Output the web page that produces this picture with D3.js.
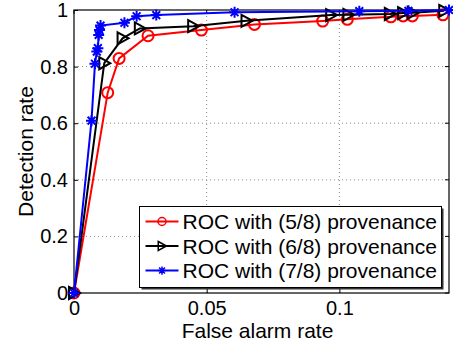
<!DOCTYPE html>
<html>
<head>
<meta charset="utf-8">
<script src="https://cdn.jsdelivr.net/npm/d3@7"></script>
<style>
  body { margin: 0; background: #fff; }
  svg { display: block; font-family: "Liberation Sans", Arial, sans-serif; }
</style>
</head>
<body>
<div id="container"></div>
<script>
/* DATA */
const xTicks = [0, 0.05, 0.1]
const yTicks = [0, 0.2, 0.4, 0.6, 0.8, 1]

const redX = [0, 0.0127, 0.017, 0.0279, 0.048, 0.068, 0.0937, 0.103, 0.1194, 0.124, 0.1275, 0.139]
const redY = [0, 0.708, 0.829, 0.909, 0.929, 0.949, 0.961, 0.967, 0.976, 0.979, 0.979, 0.983]

const blackX = [0, 0.0114, 0.0183, 0.0248, 0.0449, 0.065, 0.0969, 0.1034, 0.119, 0.124, 0.1276, 0.1395]
const blackY = [0, 0.812, 0.9, 0.935, 0.943, 0.962, 0.982, 0.983, 0.986, 0.989, 0.99, 0.997]

const blueX = [0, 0.0066, 0.0079, 0.0086, 0.009, 0.0093, 0.0096, 0.01, 0.019, 0.0236, 0.031, 0.0605, 0.1075, 0.126, 0.1413]
const blueY = [0, 0.609, 0.81, 0.853, 0.865, 0.912, 0.929, 0.945, 0.955, 0.978, 0.982, 0.992, 0.996, 0.997, 1]

const seriesNames = ["ROC with (5/8) provenance", "ROC with (6/8) provenance", "ROC with (7/8) provenance"]

/* CONSTANTS */
const width = 453,
  height = 346,
  margin = { top: 10, bottom: 53, left: 74, right: 4 },
  fontSize = 21,
  tickFont = 20

const series = [
  { name: seriesNames[0], color: "#ff0000", marker: "circle", xs: redX, ys: redY },
  { name: seriesNames[1], color: "#000000", marker: "triangle", xs: blackX, ys: blackY },
  { name: seriesNames[2], color: "#0000ff", marker: "star", xs: blueX, ys: blueY },
]

/* SCALES */
const xScale = d3.scaleLinear()
  .domain([0, 0.1413])
  .range([margin.left, width - margin.right])

const yScale = d3.scaleLinear()
  .domain([0, 1])
  .range([height - margin.bottom, margin.top])

const svg = d3.select("#container")
  .append("svg")
  .attr("width", width)
  .attr("height", height)

const x0 = xScale.range()[0], x1 = xScale.range()[1]
const y0 = yScale.range()[0], y1 = yScale.range()[1]

// dotted grid
svg.append("g")
  .selectAll("line")
  .data(xTicks.filter(d => d > 0))
  .join("line")
  .attr("x1", d => xScale(d)).attr("x2", d => xScale(d))
  .attr("y1", y0).attr("y2", y1)
  .attr("stroke", "#8c8c8c")
  .attr("stroke-width", 1)
  .attr("stroke-dasharray", "1,3")

svg.append("g")
  .selectAll("line")
  .data(yTicks.filter(d => d > 0 && d < 1))
  .join("line")
  .attr("x1", x0).attr("x2", x1)
  .attr("y1", d => yScale(d)).attr("y2", d => yScale(d))
  .attr("stroke", "#8c8c8c")
  .attr("stroke-width", 1)
  .attr("stroke-dasharray", "1,3")

// axes, ticks pointing inward like matlab
const xAxis = d3.axisBottom(xScale).tickValues(xTicks).tickFormat(d3.format("")).tickSizeInner(-4).tickSizeOuter(0).tickPadding(8)
const yAxis = d3.axisLeft(yScale).tickValues(yTicks).tickFormat(d3.format("")).tickSizeInner(-4).tickSizeOuter(0).tickPadding(6)

svg.append("g")
  .attr("transform", `translate(0,${y0})`)
  .call(xAxis)
  .call(g => g.select(".domain").remove())
  .call(g => g.selectAll("text").attr("font-size", tickFont).attr("fill", "#000").attr("font-family", "Liberation Sans, Arial, sans-serif"))

svg.append("g")
  .attr("transform", `translate(${x0},0)`)
  .call(yAxis)
  .call(g => g.select(".domain").remove())
  .call(g => g.selectAll("text").attr("font-size", tickFont).attr("fill", "#000").attr("font-family", "Liberation Sans, Arial, sans-serif"))

// ticks on top and right
svg.append("g").selectAll("line").data(xTicks).join("line")
  .attr("x1", d => xScale(d)).attr("x2", d => xScale(d))
  .attr("y1", y1).attr("y2", y1 + 4).attr("stroke", "#000")
svg.append("g").selectAll("line").data(yTicks).join("line")
  .attr("x1", x1).attr("x2", x1 - 4)
  .attr("y1", d => yScale(d)).attr("y2", d => yScale(d)).attr("stroke", "#000")

// box
svg.append("rect")
  .attr("x", x0).attr("y", y1)
  .attr("width", x1 - x0).attr("height", y0 - y1)
  .attr("fill", "none")
  .attr("stroke", "#000")
  .attr("stroke-width", 1.2)

// axis labels
svg.append("text")
  .attr("x", (x0 + x1) / 2 - 4)
  .attr("y", 338)
  .attr("text-anchor", "middle")
  .attr("font-size", fontSize)
  .text("False alarm rate")

svg.append("text")
  .attr("transform", `translate(33,${(y0 + y1) / 2}) rotate(-90)`)
  .attr("text-anchor", "middle")
  .attr("font-size", fontSize)
  .text("Detection rate")

/* MARKERS */
function drawMarker(g, type, color) {
  if (type === "circle") {
    g.append("circle").attr("r", 5.5).attr("fill", "none").attr("stroke", color).attr("stroke-width", 2)
  } else if (type === "triangle") {
    g.append("path").attr("d", "M-5,-6L6,0L-5,6Z").attr("fill", "none").attr("stroke", color).attr("stroke-width", 2)
  } else {
    const r = 5.5, q = r * 0.7071
    g.append("path")
      .attr("d", `M${-r},0L${r},0M0,${-r}L0,${r}M${-q},${-q}L${q},${q}M${-q},${q}L${q},${-q}`)
      .attr("stroke", color).attr("stroke-width", 2)
  }
}

const line = d3.line()
  .x(d => xScale(d[0]))
  .y(d => yScale(d[1]))

series.forEach(s => {
  const pts = s.xs.map((x, i) => [x, s.ys[i]])
  svg.append("path")
    .datum(pts)
    .attr("d", line)
    .attr("fill", "none")
    .attr("stroke", s.color)
    .attr("stroke-width", 2)
  svg.append("g")
    .selectAll("g")
    .data(pts)
    .join("g")
    .attr("transform", d => `translate(${xScale(d[0])},${yScale(d[1])})`)
    .each(function () { drawMarker(d3.select(this), s.marker, s.color) })
})

/* LEGEND */
const legend = svg.append("g").attr("transform", "translate(139.5,206.5)")
legend.append("rect")
  .attr("x", 2).attr("y", 2)
  .attr("width", 302).attr("height", 81)
  .attr("fill", "#333")
legend.append("rect")
  .attr("width", 302).attr("height", 81)
  .attr("fill", "#fff")
  .attr("stroke", "#000")
  .attr("stroke-width", 1)

series.forEach((s, i) => {
  const ry = 15 + i * 24.5
  const row = legend.append("g").attr("transform", `translate(0,${ry})`)
  row.append("line")
    .attr("x1", 6).attr("x2", 39)
    .attr("stroke", s.color).attr("stroke-width", 2)
  const m = row.append("g").attr("transform", "translate(22.5,0)")
  drawMarker(m, s.marker, s.color)
  m.selectAll("circle").attr("r", 4).attr("stroke-width", 1.5)
  m.selectAll("path").attr("transform", "scale(0.75)")
  row.append("text")
    .attr("x", 43)
    .attr("y", 7.5)
    .attr("font-size", fontSize)
    .text(s.name)
})
</script>
</body>
</html>
